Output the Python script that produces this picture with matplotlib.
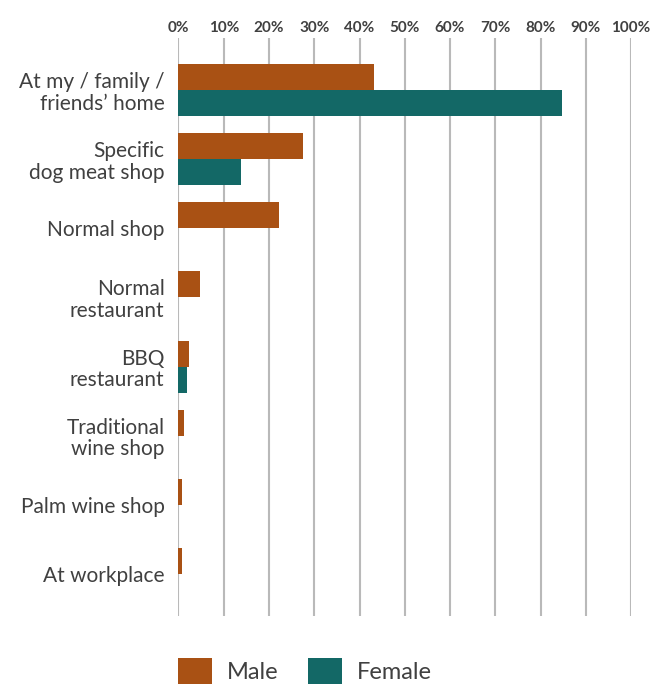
import matplotlib
matplotlib.use("Agg")
import matplotlib.pyplot as plt
from matplotlib.patches import Patch
import numpy as np

categories = [
    "At my / family /\nfriends\u2019 home",
    "Specific\ndog meat shop",
    "Normal shop",
    "Normal\nrestaurant",
    "BBQ\nrestaurant",
    "Traditional\nwine shop",
    "Palm wine shop",
    "At workplace",
]
male = [43.1, 27.5, 22.2, 4.8, 2.3, 1.2, 0.8, 0.7]
female = [84.7, 13.8, 0.0, 0.0, 1.8, 0.0, 0.0, 0.0]
xticks = list(range(0, 101, 10))
series_names = ["Male", "Female"]

MALE_C = "#A95114"
FEMALE_C = "#136866"
TEXT_C = "#404040"
GRID_C = "#B9B9B9"

plt.rcParams["font.family"] = ["Lato", "DejaVu Sans"]

fig = plt.figure(figsize=(6.52, 6.87), dpi=100)
W, H = 652, 687
ax = fig.add_axes([178.5 / W, 1 - 616 / H, (631 - 178.5) / W, (616 - 38) / H])

y = np.arange(len(categories))
bh = 0.376
ax.barh(y - bh / 2, male, height=bh, color=MALE_C, zorder=3)
ax.barh(y + bh / 2, female, height=bh, color=FEMALE_C, zorder=3)

ax.set_xlim(0, 100)
ax.set_ylim(7 + 42 / 69.1, -52 / 69.1)
ax.set_xticks(xticks)
ax.set_xticklabels([f"{v}%" for v in xticks], fontsize=11, fontweight="bold", color=TEXT_C)
ax.xaxis.tick_top()
ax.tick_params(axis="x", length=0, pad=2)
ax.set_yticks(y)
ax.set_yticklabels(categories, fontsize=15, color=TEXT_C, linespacing=1.1)
ax.tick_params(axis="y", length=0, pad=10)
for s in ax.spines.values():
    s.set_visible(False)
ax.grid(axis="x", color=GRID_C, linewidth=1.5, zorder=0)
ax.grid(axis="y", visible=False)

handles = [Patch(facecolor=MALE_C), Patch(facecolor=FEMALE_C)]
fig.legend(handles, series_names, loc="center left", bbox_to_anchor=(178 / W, 1 - 671 / H),
           ncol=2, frameon=False, fontsize=17, handlelength=1.44, handleheight=1.3,
           handletextpad=0.64, columnspacing=1.25, borderpad=0, borderaxespad=0,
           labelcolor=TEXT_C)

fig.savefig("out.png", dpi=100)
